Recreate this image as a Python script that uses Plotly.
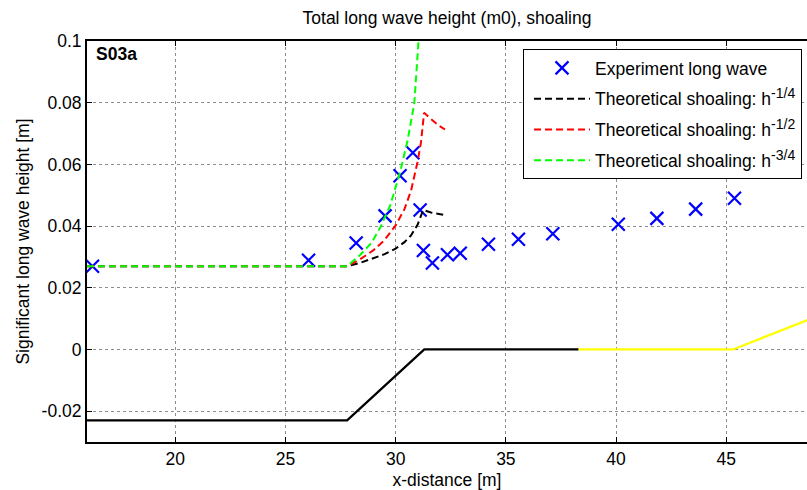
import plotly.graph_objects as go

# ---- data ----
exp_x = [16.25, 26.05, 28.21, 29.52, 30.20, 30.78, 31.11, 31.26, 31.67, 32.35,
         32.93, 34.21, 35.57, 37.13, 40.10, 41.85, 43.61, 45.37]
exp_y = [0.0270, 0.0289, 0.0345, 0.0433, 0.0563, 0.0638, 0.0452, 0.0321, 0.0280, 0.0307,
         0.0312, 0.0341, 0.0357, 0.0375, 0.0406, 0.0425, 0.0455, 0.0490]

sh14_x = [16.0, 27.8, 28.4, 29.0, 29.5, 30.0, 30.4, 30.7, 31.0, 31.25, 31.6, 32.24]
sh14_y = [0.0270, 0.0270, 0.0281, 0.0295, 0.0309, 0.0327, 0.0348, 0.0370, 0.0405, 0.0452, 0.0444, 0.0436]

sh12_x = [16.0, 27.8, 28.4, 29.0, 29.5, 30.0, 30.4, 30.7, 31.0, 31.15, 31.29, 31.5, 31.75, 32.0, 32.24]
sh12_y = [0.0270, 0.0270, 0.0293, 0.0322, 0.0355, 0.0402, 0.0455, 0.0515, 0.0610, 0.0672, 0.0767,
          0.0753, 0.0738, 0.0724, 0.0713]

sh34_x = [16.0, 27.8, 28.4, 28.9, 29.3, 29.75, 30.2, 30.55, 30.85, 31.08, 31.29, 32.24]
sh34_y = [0.0270, 0.0270, 0.0307, 0.0345, 0.0395, 0.0466, 0.0574, 0.0680, 0.0800, 0.1000, 0.1270, 0.1150]

bed_x = [16.0, 27.8, 31.3, 38.3]
bed_y = [-0.023, -0.023, 0.0, 0.0]

bed2_x = [38.3, 45.3, 48.7]
bed2_y = [0.0, 0.0, 0.0096]

x_ticks = [20, 25, 30, 35, 40, 45]
y_ticks = [-0.02, 0, 0.02, 0.04, 0.06, 0.08, 0.1]
y_tick_text = ["-0.02", "0", "0.02", "0.04", "0.06", "0.08", "0.1"]

FONT = "Liberation Sans, Arial, sans-serif"
FS = 17.5
DASH = "7px,4px"


def sup(t):
    return '<sup><span style="font-size:14px">' + t + '</span></sup>'


fig = go.Figure()

fig.add_trace(go.Scatter(x=bed_x, y=bed_y, mode="lines",
                         line=dict(color="black", width=2.3), showlegend=False))
fig.add_trace(go.Scatter(x=bed2_x, y=bed2_y, mode="lines",
                         line=dict(color="#ffff00", width=2.3), showlegend=False))

fig.add_trace(go.Scatter(x=exp_x, y=exp_y, mode="markers", name="Experiment long wave",
                         legendgroup="a", cliponaxis=False,
                         marker=dict(symbol="x-thin", size=13, color="#0000ff",
                                     line=dict(color="#0000ff", width=2.2))))
fig.add_trace(go.Scatter(x=sh14_x, y=sh14_y, mode="lines", legendgroup="b",
                         name="Theoretical shoaling: h" + sup("-1/4"),
                         line=dict(color="black", width=2, dash=DASH)))
fig.add_trace(go.Scatter(x=sh12_x, y=sh12_y, mode="lines", legendgroup="c",
                         name="Theoretical shoaling: h" + sup("-1/2"),
                         line=dict(color="#ff0000", width=2, dash=DASH)))
fig.add_trace(go.Scatter(x=sh34_x, y=sh34_y, mode="lines", legendgroup="d",
                         name="Theoretical shoaling: h" + sup("-3/4"),
                         line=dict(color="#00ff00", width=2, dash=DASH)))

fig.update_layout(
    width=807, height=490,
    margin=dict(l=87, r=0, t=41, b=48),
    paper_bgcolor="white", plot_bgcolor="white",
    font=dict(family=FONT, size=FS, color="black"),
    title=dict(text="Total long wave height (m0), shoaling", x=0.5, xref="paper",
               y=1 - 18 / 490, yanchor="middle", xanchor="center",
               font=dict(family=FONT, size=FS, color="black")),
    legend=dict(x=(523 - 87) / 720, y=(441.7 - 49) / 400.7, xanchor="left", yanchor="top",
                bgcolor="white", bordercolor="black", borderwidth=1,
                font=dict(family=FONT, size=FS, color="black"),
                tracegroupgap=5, itemwidth=56, indentation=5),
    xaxis=dict(range=[16, 48.66], tickvals=x_ticks, ticks="inside", ticklen=5,
               tickcolor="black", showline=True, linecolor="black", linewidth=1.5,
               mirror="ticks", showgrid=True, gridcolor="#8c8c8c", griddash="dot",
               gridwidth=1, zeroline=False,
               title=dict(text="x-distance [m]", standoff=8,
                          font=dict(family=FONT, size=FS, color="black")),
               tickfont=dict(family=FONT, size=FS)),
    yaxis=dict(range=[-0.03, 0.1], tickvals=y_ticks, ticktext=y_tick_text,
               ticks="inside", ticklen=5, tickcolor="black",
               showline=True, linecolor="black", linewidth=2, mirror=False,
               showgrid=True, gridcolor="#8c8c8c", griddash="dot", gridwidth=1,
               zeroline=False,
               title=dict(text="Significant long wave height [m]", standoff=7,
                          font=dict(family=FONT, size=FS, color="black")),
               tickfont=dict(family=FONT, size=FS)),
    annotations=[dict(text="<b>S03a</b>", xref="paper", yref="paper",
                      x=(94 - 87) / 720, y=(441.7 - 54) / 400.7,
                      xanchor="left", yanchor="middle", showarrow=False,
                      font=dict(family=FONT, size=FS, color="black"))],
)

fig.write_html("out.html")
